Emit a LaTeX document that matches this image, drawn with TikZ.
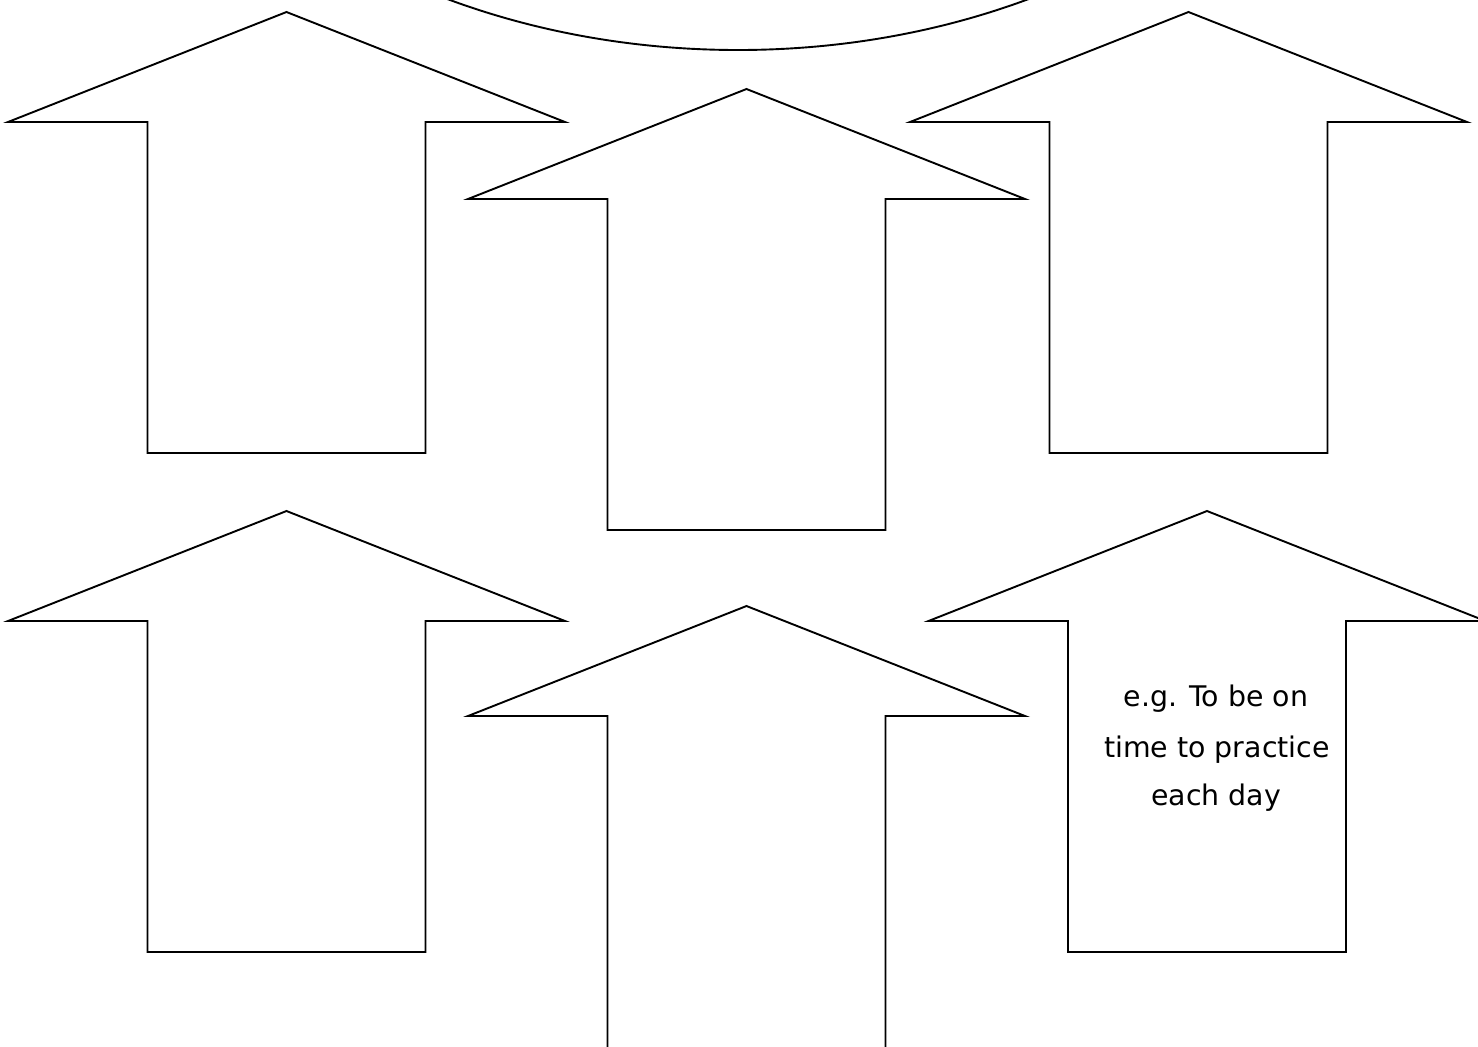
\documentclass[tikz,border=0pt]{standalone}
\usepackage{fontspec}
\newfontfamily\labelfont{DejaVu Sans}
\tikzset{
  shapeline/.style={draw=black, line width=0.95pt, line join=miter},
  uparr/.pic={
    \draw[shapeline] (0,0) -- (278.5,110) -- (139,110) -- (139,#1)
      -- (-139,#1) -- (-139,110) -- (-278.5,110) -- cycle;
  },
  lbl/.style={font=\labelfont\fontsize{14.2}{17}\selectfont, inner sep=0pt, anchor=base}
}
\begin{document}
\begin{tikzpicture}[x=0.5pt, y=-0.5pt]
  \useasboundingbox (0,0) rectangle (1478,1046);
  \clip (0,0) rectangle (1478,1046);
  % ellipse at top
  \draw[shapeline] (738,-450) ellipse [x radius=660, y radius=500];
  % arrows
  \pic at (286.5,12) {uparr=441};
  \pic at (746.5,89) {uparr=441};
  \pic at (1188.5,12) {uparr=441};
  \pic at (286.5,511) {uparr=441};
  \pic at (746.5,606) {uparr=480};
  \pic at (1207,511) {uparr=441};
  % text
  \node[lbl] (t1) at (1216,706) {e.g. To be on};
  \node[lbl] (t2) at (1217,757) {time to practice};
  \node[lbl] (t3) at (1216,805) {each day};
\end{tikzpicture}
\end{document}
